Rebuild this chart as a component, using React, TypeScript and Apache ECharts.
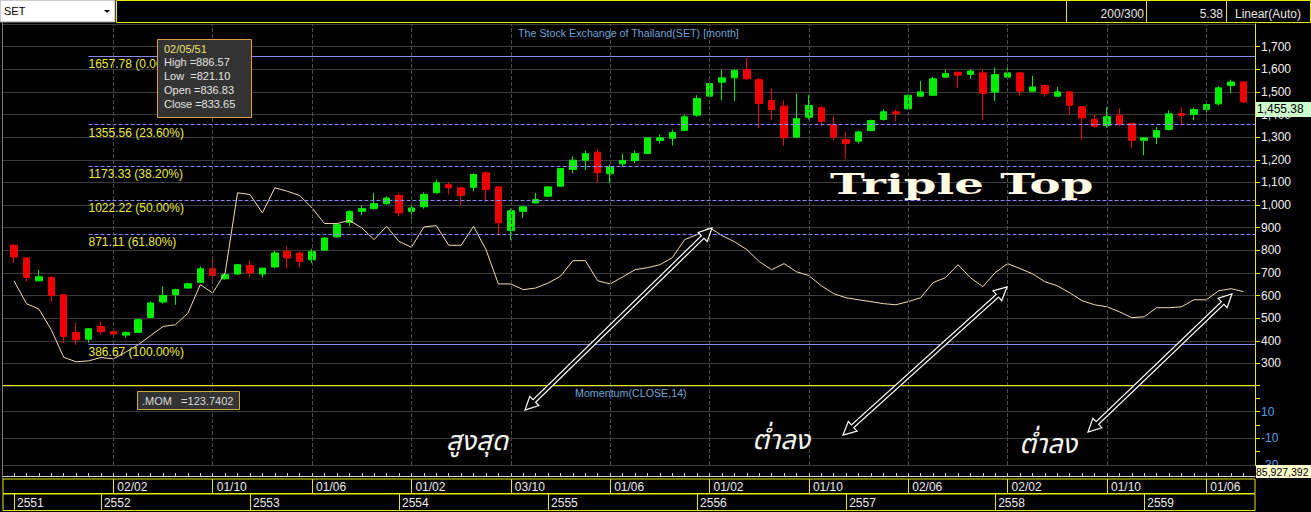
import React, { useEffect, useRef } from 'react';
import * as echarts from 'echarts';

// ---- Data (monthly SET candles, Jun 2551 .. Sep 2559) ----
const opens = [822, 766, 665, 680, 603, 437, 407, 463, 441, 425, 437, 503, 571, 603, 633, 658, 718, 674, 695, 733,
  695, 726, 795, 788, 758, 800, 859, 923, 972, 984, 1006, 1042, 972, 992, 1054, 1090, 1076, 1078, 1142, 1080,
  887, 972, 1009, 1039, 1083, 1157, 1198, 1233, 1138, 1182, 1196, 1227, 1285, 1295, 1329, 1397, 1481, 1543, 1562, 1599,
  1554, 1462, 1437, 1300, 1388, 1430, 1356, 1289, 1282, 1329, 1378, 1412, 1425, 1481, 1485, 1565, 1587, 1577, 1584, 1499,
  1565, 1584, 1503, 1528, 1481, 1500, 1434, 1378, 1351, 1396, 1360, 1286, 1300, 1334, 1404, 1400, 1422, 1447, 1528, 1544];
const closes = [770, 680, 683, 600, 419, 404, 453, 440, 430, 437, 493, 567, 600, 626, 652, 718, 689, 692, 736, 700,
  721, 788, 766, 751, 795, 854, 913, 972, 984, 1006, 1031, 965, 987, 1046, 1098, 1076, 1043, 1135, 1068, 921,
  975, 992, 1024, 1080, 1161, 1198, 1227, 1142, 1168, 1197, 1227, 1297, 1297, 1320, 1390, 1471, 1537, 1562, 1595, 1558,
  1449, 1422, 1297, 1382, 1440, 1370, 1300, 1272, 1323, 1373, 1412, 1404, 1485, 1500, 1558, 1581, 1574, 1592, 1493, 1577,
  1584, 1503, 1522, 1493, 1500, 1441, 1385, 1348, 1390, 1356, 1286, 1297, 1329, 1403, 1396, 1422, 1444, 1518, 1544, 1455.38];
const lows = [744, 662, 662, 571, 390, 382, 391, 427, 424, 412, 435, 500, 564, 559, 630, 656, 670, 670, 692, 684,
  680, 721, 719, 726, 744, 798, 857, 906, 955, 980, 1002, 950, 939, 984, 1050, 1046, 999, 1061, 1014, 866,
  844, 943, 1006, 1034, 1081, 1142, 1154, 1098, 1098, 1168, 1186, 1225, 1272, 1263, 1326, 1390, 1478, 1463, 1459, 1552,
  1341, 1375, 1260, 1297, 1378, 1348, 1286, 1205, 1272, 1326, 1373, 1370, 1422, 1478, 1484, 1562, 1518, 1558, 1375, 1459,
  1562, 1485, 1503, 1478, 1477, 1400, 1289, 1341, 1341, 1348, 1250, 1220, 1270, 1329, 1351, 1375, 1392, 1441, 1495, 1451];
const highs = [828, 770, 714, 684, 605, 481, 455, 485, 444, 441, 497, 574, 640, 630, 658, 729, 758, 696, 740, 754,
  722, 797, 817, 795, 807, 859, 918, 977, 999, 1054, 1039, 1054, 1002, 1056, 1112, 1102, 1083, 1139, 1148, 1082,
  984, 994, 1054, 1083, 1163, 1215, 1240, 1245, 1179, 1227, 1241, 1299, 1312, 1334, 1400, 1485, 1545, 1599, 1599, 1651,
  1562, 1515, 1462, 1493, 1485, 1437, 1392, 1322, 1329, 1378, 1422, 1422, 1488, 1547, 1566, 1599, 1589, 1599, 1599, 1607,
  1617, 1586, 1571, 1533, 1522, 1502, 1436, 1400, 1432, 1427, 1363, 1299, 1344, 1418, 1432, 1430, 1452, 1525, 1554, 1546];
const overlayLine = [665, 564, 540, 449, 327, 307, 311, 326, 320, 350, 382, 423, 463, 471, 522, 648, 611, 700, 1054, 1046,
  965, 1076, 1061, 1042, 987, 918, 918, 932, 899, 847, 906, 839, 813, 903, 909, 822, 822, 906, 803, 651,
  651, 626, 633, 655, 685, 754, 754, 665, 651, 682, 714, 723, 736, 767, 847, 869, 900, 865, 838, 803,
  750, 714, 741, 705, 688, 643, 608, 590, 581, 573, 564, 559, 573, 590, 657, 679, 736, 679, 639, 701,
  741, 719, 696, 661, 643, 612, 577, 559, 550, 528, 502, 506, 546, 546, 550, 581, 581, 621, 630, 617];

const dateLabelIdx = [8, 16, 24, 32, 40, 48, 56, 64, 72, 80, 88, 96];
const dateLabels = ['02/02', '01/10', '01/06', '01/02', '03/10', '01/06', '01/02', '01/10', '02/06', '02/02', '01/10', '01/06'];
const yearLabelIdx = [0, 7, 19, 31, 43, 55, 67, 79, 91];
const yearLabels = ['2551', '2552', '2553', '2554', '2555', '2556', '2557', '2558', '2559'];
const monthIdx = opens.map((_, i) => i);

const fibLevels = [1657.78, 1355.56, 1173.33, 1022.22, 871.11, 386.67];
const fibPercents = ['0.00%', '23.60%', '38.20%', '50.00%', '61.80%', '100.00%'];
const fibStartIdx = 6;

const momLabelValues = [10, -10, -30];
const momValue = '123.7402';
const volumeText = '85,927,392';
const tipDate = '02/05/51';
const tipLines = ['High =886.57', 'Low  =821.10', 'Open =836.83', 'Close =833.65'];

const X_MIN = -0.886;
const X_MAX = 99.92;
const YELLOW = '#e6e600';
const FONT = 'Arial, "Liberation Sans", sans-serif';
const THAI_FONT = '"Noto Sans Thai", "Noto Serif Thai", Loma, Garuda, Norasi, "Tlwg Typo", Kinnari, sans-serif';

function arrow(x1: number, y1: number, x2: number, y2: number) {
  const dx = x2 - x1, dy = y2 - y1, L = Math.hypot(dx, dy);
  const ux = dx / L, uy = dy / L, px = -uy, py = ux;
  const hl = 13, hw = 6.5, sw = 1.8;
  const b2x = x2 - ux * hl, b2y = y2 - uy * hl;
  const b1x = x1 + ux * hl, b1y = y1 + uy * hl;
  const pts = [
    [x2, y2], [b2x + px * hw, b2y + py * hw], [b2x + px * sw, b2y + py * sw],
    [b1x + px * sw, b1y + py * sw], [b1x + px * hw, b1y + py * hw], [x1, y1],
    [b1x - px * hw, b1y - py * hw], [b1x - px * sw, b1y - py * sw],
    [b2x - px * sw, b2y - py * sw], [b2x - px * hw, b2y - py * hw],
  ];
  return { type: 'polygon', shape: { points: pts }, style: { fill: '#000', stroke: '#ffffff', lineWidth: 1.2 }, z: 20 };
}

export default function App() {
  const ref = useRef<HTMLDivElement>(null);
  useEffect(() => {
    if (!ref.current) return;
    const chart = echarts.init(ref.current, undefined, { renderer: 'svg' });
    const candleData = monthIdx.map((i) => [i, opens[i], closes[i], lows[i], highs[i]]);
    const option: any = {
      animation: false,
      backgroundColor: '#000',
      title: [
        { text: 'The Stock Exchange of Thailand(SET) [month]', left: 513, top: 22, textStyle: { color: '#6fa3d8', fontSize: 10.7, fontWeight: 'normal', fontFamily: FONT } },
        { text: 'Momentum(CLOSE,14)', left: 570, top: 382, textStyle: { color: '#6fa3d8', fontSize: 10.7, fontWeight: 'normal', fontFamily: FONT } },
      ],
      grid: [
        { left: 3, right: 56, top: 24, height: 362 },
        { left: 3, right: 56, top: 385, height: 80 },
        { left: 3, right: 56, top: 479, height: 14.5, show: true, borderColor: YELLOW, borderWidth: 1, backgroundColor: '#000' },
        { left: 3, right: 56, top: 494, height: 16.5, show: true, borderColor: YELLOW, borderWidth: 1, backgroundColor: '#000' },
      ],
      xAxis: [
        { type: 'value', gridIndex: 0, min: X_MIN, max: X_MAX, show: false, axisLine: { onZero: false }, splitLine: { show: false } },
        {
          type: 'value', gridIndex: 1, min: X_MIN, max: X_MAX, position: 'bottom', offset: 11,
          axisLine: { show: true, onZero: false, lineStyle: { color: '#cfcfcf' } },
          axisTick: { show: true, inside: true, length: 3, customValues: monthIdx, lineStyle: { color: '#cfcfcf' } },
          axisLabel: { show: false }, splitLine: { show: false },
        },
        {
          type: 'value', gridIndex: 2, min: X_MIN, max: X_MAX, position: 'bottom',
          axisLine: { show: false, onZero: false },
          axisTick: { show: true, inside: true, length: 14.5, customValues: dateLabelIdx, lineStyle: { color: YELLOW } },
          axisLabel: {
            show: true, inside: true, margin: 1, customValues: dateLabelIdx, align: 'left', padding: [0, 0, 0, 4],
            color: '#ececec', fontSize: 12, fontFamily: FONT, lineHeight: 12,
            formatter: (v: number) => dateLabels[dateLabelIdx.indexOf(Math.round(v))] ?? '',
          },
          splitLine: { show: false },
        },
        {
          type: 'value', gridIndex: 3, min: X_MIN, max: X_MAX, position: 'bottom',
          axisLine: { show: false, onZero: false },
          axisTick: { show: true, inside: true, length: 16.5, customValues: yearLabelIdx, lineStyle: { color: YELLOW } },
          axisLabel: {
            show: true, inside: true, margin: 2, customValues: yearLabelIdx, align: 'left', padding: [0, 0, 0, 3],
            color: '#ececec', fontSize: 12, fontFamily: FONT, lineHeight: 12,
            formatter: (v: number) => yearLabels[yearLabelIdx.indexOf(Math.round(v))] ?? '',
          },
          splitLine: { show: false },
        },
      ],
      yAxis: [
        {
          type: 'value', gridIndex: 0, position: 'right', min: 200, max: 1800, interval: 100,
          axisLine: { show: true, onZero: false, lineStyle: { color: YELLOW } },
          axisTick: { show: true, length: 5, lineStyle: { color: YELLOW } },
          axisLabel: {
            color: '#f0f0f0', fontSize: 12, fontFamily: FONT, margin: 6, showMinLabel: false, showMaxLabel: false,
            formatter: (v: number) => v.toLocaleString('en-US'),
          },
          splitLine: { show: true, lineStyle: { color: '#3a3a3a', width: 1 } },
        },
        {
          type: 'value', gridIndex: 1, position: 'right', min: -30, max: 30, interval: 10,
          axisLine: { show: true, onZero: false, lineStyle: { color: YELLOW } },
          axisTick: { show: true, length: 5, lineStyle: { color: YELLOW } },
          axisLabel: {
            color: '#5b9be0', fontSize: 12, fontFamily: FONT, margin: 6,
            formatter: (v: number) => (momLabelValues.indexOf(v) >= 0 ? String(v) : ''),
          },
          splitLine: { show: false },
        },
        { type: 'value', gridIndex: 2, show: false, min: 0, max: 1, axisLine: { onZero: false } },
        { type: 'value', gridIndex: 3, show: false, min: 0, max: 1, axisLine: { onZero: false } },
      ],
      series: [
        {
          type: 'candlestick', name: 'SET', xAxisIndex: 0, yAxisIndex: 0,
          encode: { x: 0, y: [1, 2, 3, 4] },
          data: candleData, barWidth: 7,
          itemStyle: { color: '#00ee00', color0: '#ee0000', borderColor: '#00ee00', borderColor0: '#ee0000', borderWidth: 1 },
          markLine: {
            silent: true, symbol: ['none', 'none'], animation: false,
            data: fibLevels.map((lv, k) => [
              {
                name: `${lv.toFixed(2)} (${fibPercents[k]})`, coord: [fibStartIdx, lv],
                lineStyle: { color: '#8a8af2', width: 1, type: k === 0 || k === fibLevels.length - 1 ? 'solid' : 'dashed' },
              },
              { coord: [X_MAX, lv] },
            ]),
            label: { show: true, position: 'insideStartBottom', formatter: '{b}', color: '#ecec3c', fontSize: 12, fontFamily: FONT, distance: [0, 2] },
          },
        },
        {
          type: 'line', name: 'overlay', xAxisIndex: 0, yAxisIndex: 0,
          data: overlayLine.map((v, i) => [i, v]), showSymbol: false, symbol: 'none',
          lineStyle: { color: '#f0dcb4', width: 1 }, z: 3,
          markLine: {
            silent: true, symbol: ['none', 'none'], label: { show: false },
            lineStyle: { color: '#4c4c4c', type: 'dashed', width: 1 },
            data: dateLabelIdx.map((v) => ({ xAxis: v })),
          },
        },
        {
          type: 'line', name: 'MOM', xAxisIndex: 1, yAxisIndex: 1, data: [], symbol: 'none',
          markLine: {
            silent: true, symbol: ['none', 'none'], label: { show: false },
            data: [
              ...dateLabelIdx.map((v) => ({ xAxis: v, lineStyle: { color: '#4c4c4c', type: 'dashed', width: 1 } })),
              ...momLabelValues.map((v) => ({ yAxis: v, lineStyle: { color: '#3a3a3a', type: 'solid', width: 1 } })),
            ],
          },
        },
      ],
    };
    chart.setOption(option);

    const lastClose = closes[closes.length - 1];
    const lastPt = chart.convertToPixel({ xAxisIndex: 0, yAxisIndex: 0 }, [closes.length - 1, lastClose]) as number[];
    const py = lastPt[1];

    const graphics: any[] = [
      // top bar
      { type: 'rect', shape: { x: 0, y: 0, width: 115, height: 22 }, style: { fill: '#ffffff', stroke: '#9a9a9a' }, z: 10 },
      { type: 'text', x: 4, y: 11, style: { text: 'SET', fill: '#000', font: `11px ${FONT}`, textVerticalAlign: 'middle' }, z: 11 },
      { type: 'polygon', shape: { points: [[104, 10], [110, 10], [107, 13]] }, style: { fill: '#000' }, z: 11 },
      { type: 'rect', shape: { x: 116.5, y: 0.5, width: 1194, height: 22 }, style: { fill: '#000', stroke: YELLOW, lineWidth: 1 }, z: 10 },
      { type: 'line', shape: { x1: 1066.5, y1: 0.5, x2: 1066.5, y2: 22.5 }, style: { stroke: YELLOW }, z: 11 },
      { type: 'line', shape: { x1: 1146.5, y1: 0.5, x2: 1146.5, y2: 22.5 }, style: { stroke: YELLOW }, z: 11 },
      { type: 'line', shape: { x1: 1226.5, y1: 0.5, x2: 1226.5, y2: 22.5 }, style: { stroke: YELLOW }, z: 11 },
      { type: 'text', x: 1144, y: 14, style: { text: '200/300', fill: '#e6e6e6', font: `12px ${FONT}`, textAlign: 'right', textVerticalAlign: 'middle' }, z: 11 },
      { type: 'text', x: 1223, y: 14, style: { text: '5.38', fill: '#e6e6e6', font: `12px ${FONT}`, textAlign: 'right', textVerticalAlign: 'middle' }, z: 11 },
      { type: 'text', x: 1268, y: 14, style: { text: 'Linear(Auto)', fill: '#e6e6e6', font: `12px ${FONT}`, textAlign: 'center', textVerticalAlign: 'middle' }, z: 11 },
      // frame lines
      { type: 'line', shape: { x1: 2.5, y1: 23, x2: 2.5, y2: 479 }, style: { stroke: '#7a7a7a' }, z: 5 },
      { type: 'line', shape: { x1: 3, y1: 385.5, x2: 1255, y2: 385.5 }, style: { stroke: YELLOW, lineWidth: 1 }, z: 6 },
      // hover box
      { type: 'rect', shape: { x: 157.5, y: 39.5, width: 94, height: 78 }, style: { fill: '#333333', stroke: '#d9a03c', lineWidth: 1 }, z: 12 },
      { type: 'text', x: 164, y: 49, style: { text: tipDate, fill: '#e8e070', font: `11px ${FONT}`, textVerticalAlign: 'middle' }, z: 13 },
      ...tipLines.map((t, k) => ({ type: 'text', x: 164, y: 62 + k * 14, style: { text: t, fill: '#e4e4e4', font: `11px ${FONT}`, textVerticalAlign: 'middle' }, z: 13 })),
      // MOM box
      { type: 'rect', shape: { x: 137.5, y: 391.5, width: 102, height: 18 }, style: { fill: '#333333', stroke: '#c8b040', lineWidth: 1 }, z: 12 },
      { type: 'text', x: 142, y: 400.5, style: { text: `.MOM   =${momValue}`, fill: '#d8d8d8', font: `11px ${FONT}`, textVerticalAlign: 'middle' }, z: 13 },
      // Triple Top
      { type: 'text', x: 830, y: 184, scaleX: 1.67, style: { text: 'Triple Top', fill: '#fffbe4', font: `bold 28px "DejaVu Serif", serif`, textVerticalAlign: 'middle' }, z: 14 },
      // Thai annotations
      { type: 'text', x: 446, y: 441, style: { text: 'สูงสุด', fill: '#f6f6f0', font: `italic 27px ${THAI_FONT}`, textVerticalAlign: 'middle' }, z: 14 },
      { type: 'text', x: 752, y: 440, style: { text: 'ต่ำลง', fill: '#f6f6f0', font: `italic 27px ${THAI_FONT}`, textVerticalAlign: 'middle' }, z: 14 },
      { type: 'text', x: 1019, y: 444, style: { text: 'ต่ำลง', fill: '#f6f6f0', font: `italic 27px ${THAI_FONT}`, textVerticalAlign: 'middle' }, z: 14 },
      // arrows
      arrow(525, 410, 712, 228),
      arrow(843, 435, 1007, 287),
      arrow(1088, 432, 1232, 294),
      // last price label
      { type: 'rect', shape: { x: 1256, y: py, width: 55, height: 15 }, style: { fill: '#ccffcc' }, z: 15 },
      { type: 'text', x: 1257, y: py + 7.5, style: { text: lastClose.toLocaleString('en-US', { minimumFractionDigits: 2 }), fill: '#000', font: `12px ${FONT}`, textVerticalAlign: 'middle' }, z: 16 },
      // volume label
      { type: 'rect', shape: { x: 1256, y: 465, width: 55, height: 13 }, style: { fill: '#ffffcc' }, z: 15 },
      { type: 'text', x: 1256, y: 471.5, style: { text: volumeText, fill: '#000', font: `10.5px ${FONT}`, textVerticalAlign: 'middle' }, z: 16 },
    ];
    chart.setOption({ graphic: graphics });
    return () => chart.dispose();
  }, []);
  return <div ref={ref} style={{ position: 'fixed', left: 0, top: 0, width: 1311, height: 512 }} />;
}
